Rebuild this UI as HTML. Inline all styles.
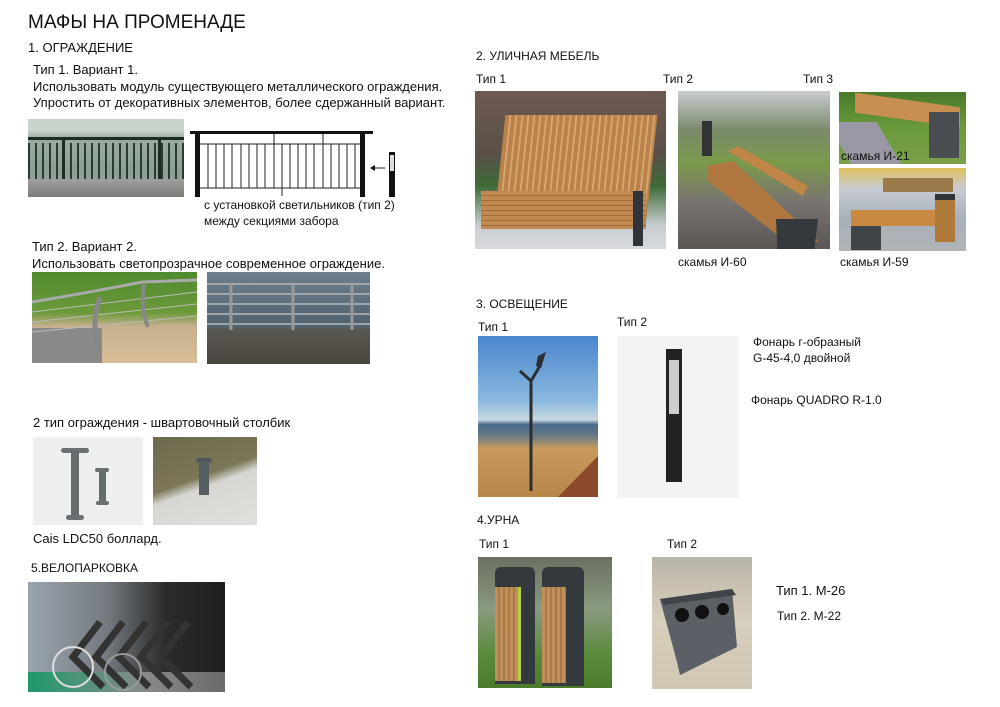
<!DOCTYPE html>
<html><head><meta charset="utf-8">
<style>
body{margin:0;width:1000px;height:707px;background:#fff;position:relative;overflow:hidden;font-family:"Liberation Sans",Arial,sans-serif;color:#111}
.t{position:absolute;white-space:nowrap;font-size:12px;line-height:15px}
.p{position:absolute;overflow:hidden}
</style></head><body>
<div class="t" style="left:28px;top:12px;font-size:19px;line-height:22px">МАФЫ НА ПРОМЕНАДЕ</div>
<div class="t" style="left:28px;top:40px;font-size:13px">1. ОГРАЖДЕНИЕ</div>
<div class="t" style="left:33px;top:62px;font-size:13px;line-height:16.5px">Тип 1. Вариант 1.<br>Использовать модуль существующего металлического ограждения.<br>Упростить от декоративных элементов, более сдержанный вариант.</div>

<div class="p" style="left:28px;top:119px;width:156px;height:78px;background:linear-gradient(#c9d3cc 0,#c9d3cc 15%,#98ab9e 25%,#8aa093 70%,#9e9e9b 78%,#7d7b78 100%)">
<div style="position:absolute;left:0;right:0;top:18px;height:3px;background:#1e2a24"></div>
<div style="position:absolute;left:0;right:0;top:24px;height:36px;background:repeating-linear-gradient(90deg,#2a3a32 0 2px,transparent 2px 7px)"></div>
<div style="position:absolute;left:34px;top:18px;width:3px;height:42px;background:#1e2a24"></div>
<div style="position:absolute;left:130px;top:18px;width:3px;height:42px;background:#1e2a24"></div>
</div>

<svg style="position:absolute;left:188px;top:128px" width="215" height="72">
<rect x="2" y="3" width="183" height="3" fill="#111"/>
<rect x="7" y="6" width="5" height="63" fill="#111"/>
<rect x="172" y="6" width="5" height="63" fill="#111"/>
<g stroke="#222" stroke-width="1">
<line x1="12" y1="16" x2="172" y2="16"/><line x1="12" y1="60" x2="172" y2="60"/>
<line x1="20" y1="16" x2="20" y2="60"/><line x1="28" y1="16" x2="28" y2="60"/><line x1="36" y1="16" x2="36" y2="60"/><line x1="44" y1="16" x2="44" y2="60"/><line x1="53" y1="16" x2="53" y2="60"/><line x1="61" y1="16" x2="61" y2="60"/><line x1="69" y1="16" x2="69" y2="60"/><line x1="77" y1="16" x2="77" y2="60"/><line x1="86" y1="6" x2="86" y2="60"/><line x1="94" y1="16" x2="94" y2="60"/><line x1="102" y1="16" x2="102" y2="60"/><line x1="110" y1="16" x2="110" y2="60"/><line x1="118" y1="16" x2="118" y2="60"/><line x1="126" y1="16" x2="126" y2="60"/><line x1="135" y1="6" x2="135" y2="60"/><line x1="143" y1="16" x2="143" y2="60"/><line x1="151" y1="16" x2="151" y2="60"/><line x1="159" y1="16" x2="159" y2="60"/><line x1="167" y1="16" x2="167" y2="60"/>
<line x1="94" y1="60" x2="94" y2="68"/>
<line x1="183" y1="40" x2="197" y2="40"/>
</g>
<polygon points="182,40 187,37 187,43" fill="#111"/>
<rect x="201" y="24" width="6" height="45" fill="#111"/><rect x="202" y="27" width="4" height="16" fill="#ddd"/>
</svg>
<div class="t" style="left:204px;top:198px;line-height:15.5px">с установкой светильников (тип 2)<br>между секциями забора</div>

<div class="t" style="left:32px;top:238px;font-size:13px;line-height:17px">Тип 2. Вариант 2.<br>Использовать светопрозрачное современное ограждение.</div>
<div class="p" style="left:32px;top:272px;width:165px;height:91px;background:linear-gradient(#4f8a2e,#6c9a3a 45%,#c8b090 60%,#d8bf98 100%)">
<div style="position:absolute;left:0;top:56px;width:70px;height:35px;background:#8a8a88"></div>
<svg width="165" height="91" style="position:absolute;left:0;top:0"><path d="M0 30 Q60 20 110 10 L165 8" stroke="#aaa" stroke-width="3" fill="none"/><path d="M0 40 L165 20 M0 50 L165 32 M0 60 L165 44" stroke="#bbb" stroke-width="1"/><path d="M68 25 Q58 50 68 85" stroke="#888" stroke-width="5" fill="none"/><path d="M112 12 Q108 35 116 55" stroke="#888" stroke-width="4" fill="none"/></svg>
</div>
<div class="p" style="left:207px;top:272px;width:163px;height:92px;background:linear-gradient(#6d7f8c,#50626f 60%,#5a5650 62%,#4a4640 100%)">
<svg width="163" height="92" style="position:absolute;left:0;top:0"><path d="M0 12 H163 M0 22 H163 M0 32 H163 M0 42 H163 M0 52 H163" stroke="#b8b8b8" stroke-width="1.5"/><path d="M24 12 V58 M86 12 V58 M145 12 V58" stroke="#999" stroke-width="3"/></svg>
</div>

<div class="t" style="left:33px;top:415px;font-size:13px">2 тип ограждения - швартовочный столбик</div>
<div class="p" style="left:33px;top:437px;width:110px;height:88px;background:#eeeff0">
<div style="position:absolute;left:28px;top:11px;width:28px;height:5px;border-radius:3px;background:#6b7073"></div>
<div style="position:absolute;left:38px;top:14px;width:8px;height:68px;background:#666b6e"></div>
<div style="position:absolute;left:33px;top:78px;width:18px;height:5px;border-radius:3px;background:#6b7073"></div>
<div style="position:absolute;left:62px;top:31px;width:14px;height:4px;border-radius:2px;background:#6b7073"></div>
<div style="position:absolute;left:66px;top:33px;width:7px;height:34px;background:#666b6e"></div>
<div style="position:absolute;left:63px;top:64px;width:13px;height:4px;border-radius:2px;background:#6b7073"></div>
</div>
<div class="p" style="left:153px;top:437px;width:104px;height:88px;background:linear-gradient(160deg,#6e6a4e 0,#7a7656 45%,#d6d6d2 55%,#e0e0dc 100%)">
<div style="position:absolute;left:43px;top:21px;width:16px;height:5px;border-radius:3px;background:#50585c"></div>
<div style="position:absolute;left:46px;top:24px;width:10px;height:34px;background:#555d60"></div>
</div>
<div class="t" style="left:33px;top:531px;font-size:13px">Cais LDC50 боллард.</div>

<div class="t" style="left:31px;top:561px;font-size:12px">5.ВЕЛОПАРКОВКА</div>
<div class="p" style="left:28px;top:582px;width:197px;height:110px;background:linear-gradient(90deg,#9aa4ae,#747a80 40%,#2b2b2b 70%,#1e1e1e)">
<div style="position:absolute;left:0;bottom:0;width:197px;height:20px;background:linear-gradient(90deg,#1f9a6a,#8a8a8a 60%,#6a6a6a)"></div>
<svg width="197" height="110" style="position:absolute;left:0;top:0"><g stroke="#333" stroke-width="7" fill="none"><path d="M72 40 L45 75 L75 105"/><path d="M95 40 L68 75 L98 105"/><path d="M118 40 L91 75 L121 105"/><path d="M140 40 L113 75 L143 105"/><path d="M160 40 L133 75 L163 105"/></g><circle cx="45" cy="85" r="20" stroke="#ddd" stroke-width="2" fill="none"/><circle cx="95" cy="90" r="18" stroke="#999" stroke-width="2" fill="none"/></svg>
</div>

<div class="t" style="left:476px;top:49px">2. УЛИЧНАЯ МЕБЕЛЬ</div>
<div class="t" style="left:476px;top:72px">Тип 1</div>
<div class="t" style="left:663px;top:72px">Тип 2</div>
<div class="t" style="left:803px;top:72px">Тип 3</div>
<div class="p" style="left:475px;top:91px;width:191px;height:158px;background:linear-gradient(#6e5a50,#5a5048 40%,#3e6a38 60%,#c8ccd0 85%,#d8dadc 100%)">
<div style="position:absolute;left:25px;top:24px;width:152px;height:104px;background:repeating-linear-gradient(90deg,#b8824a 0 4px,#d8a46a 4px 6px);transform:skewX(-6deg)"></div>
<div style="position:absolute;left:6px;top:100px;width:165px;height:38px;background:repeating-linear-gradient(#c08a50 0 4px,#a06a3a 4px 5px)"></div>
<div style="position:absolute;left:158px;top:100px;width:10px;height:55px;background:#2f3438"></div>
</div>
<div class="p" style="left:678px;top:91px;width:152px;height:158px;background:linear-gradient(#c8ccd0,#7a8a6a 25%,#7a9a4a 45%,#7a7470 70%,#5a5654 100%)">
<svg width="152" height="158" style="position:absolute;left:0;top:0"><polygon points="30,75 55,70 140,150 120,160 30,90" fill="#b07840"/><polygon points="50,60 60,55 130,95 125,105" fill="#c08648"/><polygon points="98,128 140,128 135,170 100,170" fill="#34393d"/><rect x="24" y="30" width="10" height="35" fill="#333"/></svg>
</div>
<div class="p" style="left:839px;top:92px;width:127px;height:72px;background:linear-gradient(#4a7a2a,#6a9a3a 50%,#7aa04a)">
<div style="position:absolute;left:0;top:30px;width:50px;height:42px;background:#9a98a4;transform:skewX(30deg)"></div>
<div style="position:absolute;left:16px;top:8px;width:105px;height:20px;background:#c89050;transform:skewY(8deg)"></div>
<div style="position:absolute;left:90px;top:20px;width:30px;height:46px;background:#4a4e52"></div>
</div>
<div class="t" style="left:841px;top:149px;font-weight:normal">скамья И-21</div>
<div class="p" style="left:839px;top:168px;width:127px;height:83px;background:linear-gradient(#e0c060,#c8ccd4 25%,#a8b0b8 60%,#b0b4b8)">
<div style="position:absolute;left:12px;top:42px;width:92px;height:16px;background:#c88a40"></div>
<div style="position:absolute;left:12px;top:58px;width:30px;height:24px;background:#3e4448"></div>
<div style="position:absolute;left:96px;top:26px;width:20px;height:42px;background:#b07a3a;border-top:6px solid #2e3438"></div>
<div style="position:absolute;left:44px;top:10px;width:70px;height:14px;background:#9a7a4a"></div>
</div>
<div class="t" style="left:678px;top:255px">скамья И-60</div>
<div class="t" style="left:840px;top:255px">скамья И-59</div>

<div class="t" style="left:476px;top:297px">3. ОСВЕЩЕНИЕ</div>
<div class="t" style="left:478px;top:320px">Тип 1</div>
<div class="t" style="left:617px;top:315px">Тип 2</div>
<div class="p" style="left:478px;top:336px;width:120px;height:161px;background:linear-gradient(#4a86cc,#8ab8e0 40%,#c8d8e0 52%,#4a6a8a 55%,#6a7a86 62%,#c89a5a 70%,#b8864a 100%)">
<svg width="120" height="161" style="position:absolute;left:0;top:0"><path d="M42 35 L53 45 L63 28" stroke="#2a2e30" stroke-width="3" fill="none"/><path d="M53 45 V155" stroke="#2a2e30" stroke-width="3"/><polygon points="60,20 68,16 63,32 58,30" fill="#2a2e30"/><polygon points="80,161 120,120 120,161" fill="#8a4a2a"/></svg>
</div>
<div class="p" style="left:617px;top:336px;width:122px;height:162px;background:#f2f3f5">
<div style="position:absolute;left:49px;top:13px;width:16px;height:133px;background:#222"></div>
<div style="position:absolute;left:52px;top:24px;width:10px;height:54px;background:#cfcfd2"></div>
</div>
<div class="t" style="left:753px;top:334px;line-height:16px">Фонарь г-образный<br>G-45-4,0 двойной</div>
<div class="t" style="left:751px;top:393px">Фонарь QUADRO R-1.0</div>

<div class="t" style="left:477px;top:513px">4.УРНА</div>
<div class="t" style="left:479px;top:537px">Тип 1</div>
<div class="t" style="left:667px;top:537px">Тип 2</div>
<div class="p" style="left:478px;top:557px;width:134px;height:131px;background:linear-gradient(#6a7060,#8a9a80 40%,#5a8a3a 75%,#4a7a2a)">
<div style="position:absolute;left:17px;top:10px;width:40px;height:117px;background:#34393d;border-radius:6px 6px 0 0"></div>
<div style="position:absolute;left:17px;top:30px;width:23px;height:94px;background:repeating-linear-gradient(90deg,#c0905a 0 3px,#a87848 3px 5px)"></div>
<div style="position:absolute;left:40px;top:30px;width:3px;height:94px;background:#b8d040"></div>
<div style="position:absolute;left:64px;top:10px;width:42px;height:119px;background:#34393d;border-radius:6px 6px 0 0"></div>
<div style="position:absolute;left:64px;top:30px;width:24px;height:96px;background:repeating-linear-gradient(90deg,#c0905a 0 3px,#a87848 3px 5px)"></div>
</div>
<div class="p" style="left:652px;top:557px;width:100px;height:132px;background:linear-gradient(#b8b4a8,#c8c0b0 20%,#d8cebc 50%,#cfc6b4)">
<svg width="100" height="132" style="position:absolute;left:0;top:0"><polygon points="8,42 80,32 85,90 28,118 25,105" fill="#5a6066"/><polygon points="8,42 80,32 84,38 12,48" fill="#3e4448"/><circle cx="30" cy="58" r="7" fill="#111"/><circle cx="50" cy="55" r="7" fill="#111"/><circle cx="71" cy="52" r="6" fill="#111"/></svg>
</div>
<div class="t" style="left:776px;top:583px;font-size:13px">Тип 1. М-26</div>
<div class="t" style="left:777px;top:609px">Тип 2. М-22</div>
</body></html>
